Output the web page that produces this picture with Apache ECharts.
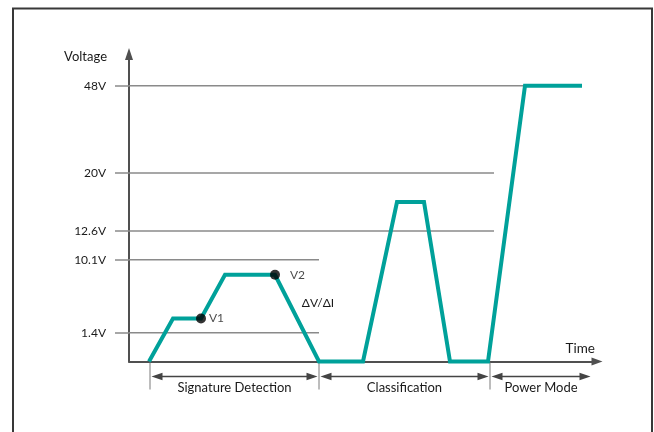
<!DOCTYPE html>
<html><head><meta charset="utf-8">
<script src="https://cdn.jsdelivr.net/npm/echarts@6/dist/echarts.min.js"></script>
<style>html,body{margin:0;padding:0;background:#fff}#c{width:654px;height:432px}</style>
</head><body><div id="c"></div>
<script>
// Schematic (non-linear) voltage axis: labelled voltages and their drawn heights
const voltTicks   = [0, 1.4, 10.1, 12.6, 20, 48];
const tickLabels  = ['', '1.4V', '10.1V', '12.6V', '20V', '48V'];
const tickHeights = [0, 28.8, 101.8, 130.5, 188.5, 275.8];
// Reference levels drawn as guide lines, and where each one ends along the time axis
const guideVolts = [1.4, 10.1, 12.6, 20, 48];
const guideEnd   = [190, 190, 365, 365, 396];
// Waveform (time in arbitrary units, voltage in V)
const time    = [20, 44, 72, 96, 146, 190, 234, 268, 295, 321, 359, 396, 453];
const voltage = [0, 3.1, 3.1, 8.3, 8.3, 0, 0, 16.3, 16.3, 0, 0, 48, 48];
// Measurement points
const markerNames = ['V1', 'V2'];
const markerTime  = [72, 146];
const markerVolt  = [3.1, 8.3];
// Phases
const phases      = ['Signature Detection', 'Classification', 'Power Mode'];
const phaseStart  = [21, 190, 361];
const phaseEnd    = [190, 361, 463];

function toLevel(v) {
  for (let i = 1; i < voltTicks.length; i++) {
    if (v <= voltTicks[i]) {
      const f = (v - voltTicks[i - 1]) / (voltTicks[i] - voltTicks[i - 1]);
      return tickHeights[i - 1] + f * (tickHeights[i] - tickHeights[i - 1]);
    }
  }
  return tickHeights[tickHeights.length - 1];
}

const FONT = 'Lato';
const TEAL = '#00a19a';
const TXT = '#1a1a1a';
const chart = echarts.init(document.getElementById('c'), null, {renderer: 'canvas'});

const guideSeries = guideVolts.map((v, i) => ({
  type: 'line', xAxisIndex: 0, yAxisIndex: 0, silent: true,
  symbol: 'none', z: 1,
  lineStyle: {color: '#8a8a8a', width: 1.5},
  data: [[0, toLevel(v)], [guideEnd[i], toLevel(v)]]
}));

const bracketY = -15;

chart.setOption({
  animation: false,
  textStyle: {fontFamily: FONT},
  grid: [
    {left: 129, right: 57, top: 54, bottom: 70.5},
    {left: 129, right: 57, top: 361.5, height: 40}
  ],
  xAxis: [
    {type: 'value', gridIndex: 0, min: 0, max: 468,
     name: 'Time', nameLocation: 'end', nameGap: -2,
     nameTextStyle: {fontFamily: FONT, fontSize: 13.5, color: TXT, align: 'right', verticalAlign: 'bottom', padding: [0, 0, 6, 0]},
     axisLine: {show: true, lineStyle: {color: '#505050', width: 2}, symbol: ['none', 'triangle'], symbolSize: [8, 11]},
     axisTick: {show: false}, axisLabel: {show: false}, splitLine: {show: false}},
    {type: 'value', gridIndex: 1, min: 0, max: 468, show: false}
  ],
  yAxis: [
    {type: 'value', gridIndex: 0, min: 0, max: 307.5,
     name: 'Voltage', nameLocation: 'end', nameGap: -3,
     nameTextStyle: {fontFamily: FONT, fontSize: 13, color: TXT, align: 'right', verticalAlign: 'middle', padding: [0, 22, 0, 0]},
     axisLine: {show: true, lineStyle: {color: '#505050', width: 2}, symbol: ['none', 'triangle'], symbolSize: [8, 12]},
     axisTick: {show: true, customValues: guideVolts.map(toLevel), length: 14, inside: false,
                lineStyle: {color: '#8a8a8a', width: 1.5}},
     splitLine: {show: false},
     axisLabel: {
       customValues: tickHeights.slice(1),
       margin: 23, fontFamily: FONT, fontSize: 12, color: TXT,
       formatter: val => {
         const i = tickHeights.findIndex(h => Math.abs(h - val) < 0.01);
         return i >= 0 ? tickLabels[i] : '';
       }
     }},
    {type: 'value', gridIndex: 1, min: -40, max: 0, show: false}
  ],
  graphic: [{
    type: 'rect', silent: true, z: 100,
    shape: {x: 13, y: 8.5, width: 639, height: 460},
    style: {fill: 'none', stroke: '#383838', lineWidth: 2}
  }],
  series: [
    ...guideSeries,
    {
      type: 'line', xAxisIndex: 0, yAxisIndex: 0, z: 3, symbol: 'none', clip: false,
      lineStyle: {color: TEAL, width: 4, join: 'miter', cap: 'butt'},
      data: time.map((t, i) => [t, toLevel(voltage[i])]),
      markPoint: {
        symbol: 'circle', symbolSize: 0, silent: true,
        label: {show: true, formatter: 'ΔV/ΔI', fontFamily: FONT, fontSize: 12, color: TXT, position: 'inside'},
        data: [{coord: [189, toLevel(4.9)], value: 0}]
      }
    },
    {
      type: 'scatter', xAxisIndex: 0, yAxisIndex: 0, z: 4, symbolSize: 10,
      itemStyle: {color: '#000'},
      label: {show: true, position: 'right', fontFamily: FONT, fontSize: 12, color: TXT,
              formatter: p => markerNames[p.dataIndex]},
      data: markerTime.map((t, i) => ({
        value: [t, toLevel(markerVolt[i])],
        label: {distance: i === 0 ? 3 : 10}
      }))
    },
    {
      type: 'custom', xAxisIndex: 1, yAxisIndex: 1, silent: true,
      data: phases.map((p, i) => [phaseStart[i], phaseEnd[i], i]),
      renderItem: (params, api) => {
        const s = api.coord([api.value(0), bracketY]);
        const e = api.coord([api.value(1), bracketY]);
        const t1 = api.coord([api.value(0), -1]);
        const t2 = api.coord([api.value(0), -28]);
        const L = 11, H = 3.8;
        const sx = s[0] + 1.5, ex = e[0] - 1.5, y = s[1];
        return {
          type: 'group',
          children: [
            {type: 'line', shape: {x1: t1[0], y1: t1[1], x2: t2[0], y2: t2[1]},
             style: {stroke: '#7a7a7a', lineWidth: 1}},
            {type: 'line', shape: {x1: sx + 4, y1: y, x2: ex - 4, y2: y},
             style: {stroke: '#444', lineWidth: 1.5}},
            {type: 'polygon', shape: {points: [[sx, y], [sx + L, y - H], [sx + L, y + H]]},
             style: {fill: '#444'}},
            {type: 'polygon', shape: {points: [[ex, y], [ex - L, y - H], [ex - L, y + H]]},
             style: {fill: '#444'}},
            {type: 'text', x: (s[0] + e[0]) / 2, y: y + 4.5,
             style: {text: phases[api.value(2)], align: 'center', verticalAlign: 'top',
                     fontFamily: FONT, fontSize: 13, fill: TXT}}
          ]
        };
      }
    }
  ]
});
</script>
</body></html>
